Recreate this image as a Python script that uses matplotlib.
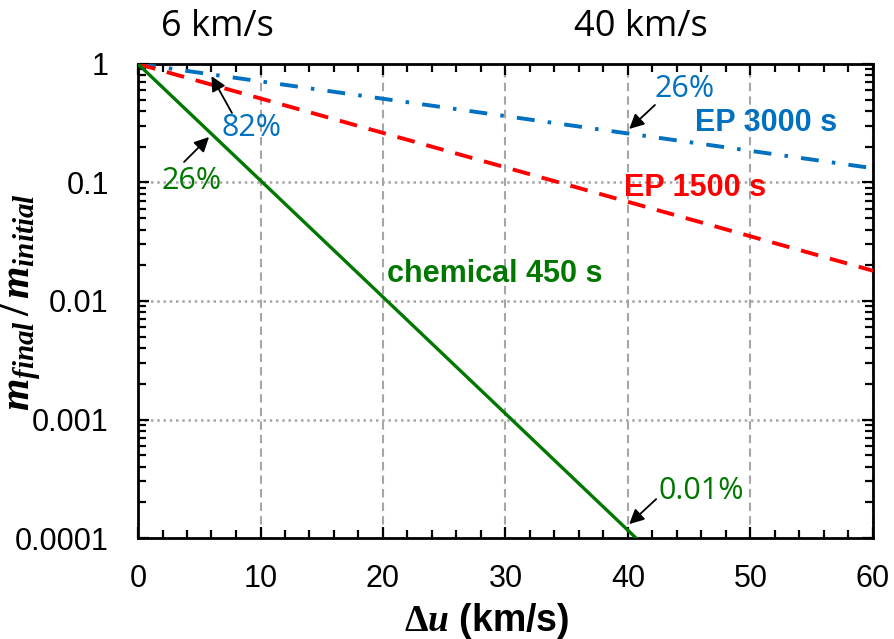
import numpy as np
import matplotlib
matplotlib.use("Agg")
import matplotlib.pyplot as plt
from matplotlib.ticker import MultipleLocator, LogLocator, NullFormatter

plt.rcParams['font.family'] = 'Liberation Sans'
plt.rcParams['mathtext.fontset'] = 'custom'
plt.rcParams['mathtext.rm'] = 'Liberation Serif:bold'
plt.rcParams['mathtext.it'] = 'Liberation Serif:bold:italic'
plt.rcParams['mathtext.bf'] = 'Liberation Serif:bold'

# delta-u (km/s) and mass fractions
ep_du = [0, 60]
ep3000_frac = [1.0, 0.132]
ep1500_frac = [1.0, 0.018]
chem_du = [0, 10, 20, 30, 40, 45]
chem_frac = [1.0, 0.104, 0.0108, 0.00112, 0.000116, 0.000037]

yticks = [1e-4, 1e-3, 1e-2, 1e-1, 1]
ytick_labels = ['0.0001', '0.001', '0.01', '0.1', '1']
xticks = [0, 10, 20, 30, 40, 50, 60]

blue = '#0070C0'
red = '#FF0000'
green = '#007800'
gridc = '#A6A6A6'

fig = plt.figure(figsize=(8.95, 6.39), dpi=100)
ax = fig.add_axes([138/895, 101/639, 735/895, 474/639])

ax.set_yscale('log')
ax.set_xlim(0, 60)
ax.set_ylim(1e-4, 1)

ax.plot(ep_du, ep3000_frac, color=blue, lw=2.8, dashes=(4.6, 3.4, 0.9, 3.4), zorder=3)
ax.plot(ep_du, ep1500_frac, color=red, lw=2.8, dashes=(4.6, 3.1), zorder=3)
ax.plot(chem_du, chem_frac, color=green, lw=2.4, zorder=3)

ax.set_xticks(xticks)
ax.set_yticks(yticks)
ax.set_yticklabels(ytick_labels)
ax.xaxis.set_minor_locator(MultipleLocator(2))
ax.yaxis.set_minor_locator(LogLocator(base=10, subs=np.arange(2, 10)))
ax.yaxis.set_minor_formatter(NullFormatter())

ax.grid(True, axis='x', which='major', color=gridc, ls=(0, (4, 2.5)), lw=1.5)
ax.grid(True, axis='y', which='major', color=gridc, ls=(0, (1, 1.5)), lw=1.8)

for s in ax.spines.values():
    s.set_linewidth(2)
ax.tick_params(which='both', direction='in', top=True, right=True, width=1.6, labelsize=22)
ax.tick_params(which='major', length=8)
ax.tick_params(which='minor', length=6)
ax.tick_params(axis='x', pad=19)
ax.tick_params(axis='y', pad=21)

ax.set_ylabel(r'$m_{final}\,/\,m_{initial}$', fontsize=30)
ax.yaxis.set_label_coords(-0.129, 0.498)
ax.set_xlabel(r'$\Delta u$ (km/s)', fontsize=27, fontweight='bold')
ax.xaxis.set_label_coords(0.475, -0.132)

# curve labels
ax.text(51.3, 0.318, 'EP 3000 s', color=blue, fontsize=22, fontweight='bold', ha='center', va='center')
ax.text(45.5, 0.0899, 'EP 1500 s', color=red, fontsize=22, fontweight='bold', ha='center', va='center')
ax.text(29.1, 0.0169, 'chemical 450 s', color=green, fontsize=22, fontweight='bold', ha='center', va='center')

# percentage callouts
arrow = dict(arrowstyle='-|>', color='black', lw=1.3, mutation_scale=22, shrinkA=0, shrinkB=0)
callouts = [
    ('82%', blue, (9.3, 0.288), (7.67, 0.386), (6.0, 0.79)),
    ('26%', green, (4.41, 0.103), (3.76, 0.149), (5.8, 0.242)),
    ('26%', blue, (44.65, 0.615), (42.2, 0.451), (40.1, 0.283)),
    ('0.01%', green, (45.96, 0.000249), (42.3, 0.000213), (40.1, 0.000131)),
]
for txt, col, tpos, tail, head in callouts:
    ax.text(tpos[0], tpos[1], txt, color=col, fontsize=22, family='Open Sans', ha='center', va='center')
    ax.annotate('', xy=head, xytext=tail, arrowprops=arrow)

fig.text(217/895, 1 - 27/639, '6 km/s', fontsize=26, family='Open Sans', ha='center', va='center')
fig.text(641/895, 1 - 27/639, '40 km/s', fontsize=26, family='Open Sans', ha='center', va='center')

fig.savefig('out.png', dpi=100)
